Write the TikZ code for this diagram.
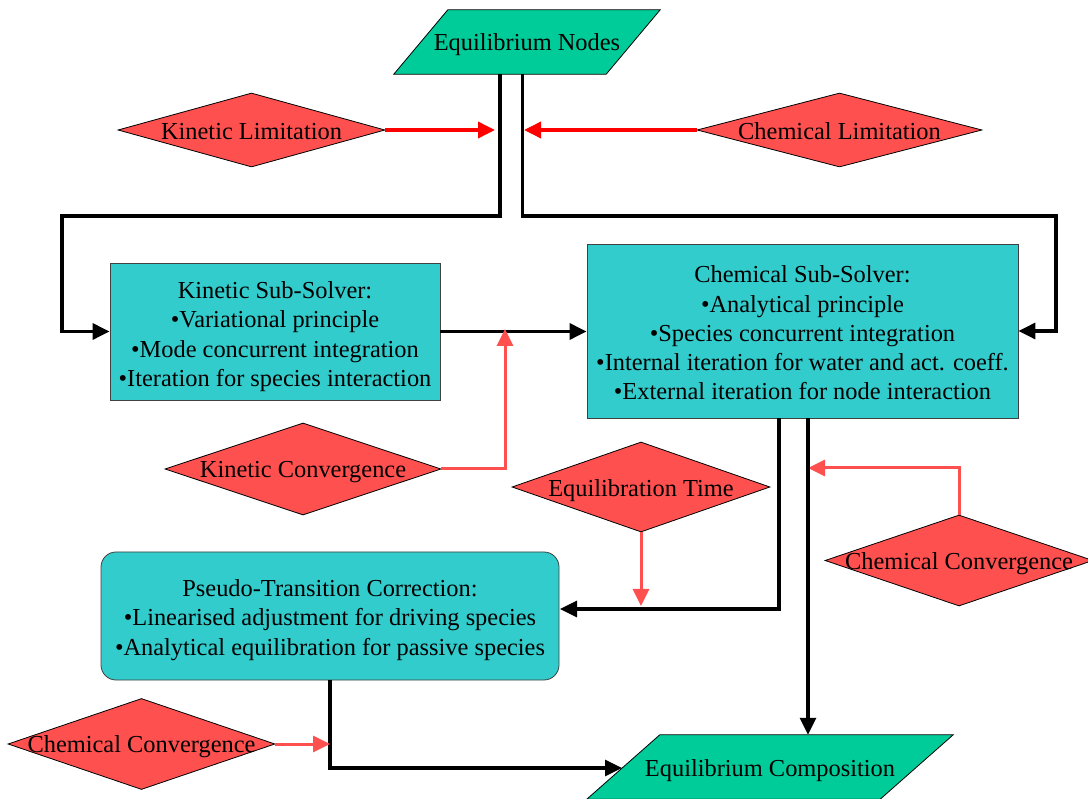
\documentclass[tikz,border=0pt]{standalone}
\usepackage{fontspec}
\setmainfont{Liberation Serif}
\usetikzlibrary{shapes.geometric,arrows.meta,backgrounds,calc}
\definecolor{paragreen}{HTML}{00CC99}
\definecolor{boxcyan}{HTML}{33CCCC}
\definecolor{diared}{HTML}{FF5050}
\begin{document}
\begin{tikzpicture}[x=1pt,y=-1pt,
  every node/.style={font=\fontsize{24.4}{29.3}\selectfont, inner sep=0pt},
  sbox/.style={rectangle, draw=black!75, line width=0.8pt, fill=boxcyan},
  dia/.style={diamond, draw=black, line width=0.8pt, fill=diared},
  ptext/.style={rectangle, minimum height=64pt},
  para/.style={fill=paragreen, draw=black, line width=0.8pt},
  blk/.style={draw=black, line width=3.2pt, -{Triangle[length=17pt,width=16pt]}},
  lim/.style={draw=red, line width=3.6pt, -{Triangle[length=17pt,width=16pt]}},
  conv/.style={draw=diared, line width=3pt, -{Triangle[length=17pt,width=16pt]}}
]
\useasboundingbox (0,0) rectangle (1088,799);

% parallelogram nodes
\node[ptext, minimum width=212pt, label={[yshift=-3pt]center:Equilibrium Nodes}] (eqn) at (527,42) {};
\node[ptext, minimum width=293pt, label={[yshift=-4pt]center:Equilibrium Composition}] (ec) at (770,767) {};
\begin{scope}[on background layer]
  \filldraw[para] ([xshift=27pt]eqn.north west) -- ([xshift=27pt]eqn.north east)
     -- ([xshift=-27pt]eqn.south east) -- ([xshift=-27pt]eqn.south west) -- cycle;
  \filldraw[para] ([xshift=36.5pt]ec.north west) -- ([xshift=36.5pt]ec.north east)
     -- ([xshift=-36.5pt]ec.south east) -- ([xshift=-36.5pt]ec.south west) -- cycle;
\end{scope}

% solver boxes
\node[sbox, minimum width=330pt, minimum height=137pt,
  label={[align=center, yshift=-5pt]center:Kinetic Sub-Solver:\\\textbullet Variational principle\\\textbullet Mode concurrent integration\\\textbullet Iteration for species interaction}] (ks) at (275,331.5) {};
\node[sbox, minimum width=431pt, minimum height=174pt,
  label={[align=center, yshift=-2pt]center:Chemical Sub-Solver:\\\textbullet Analytical principle\\\textbullet Species concurrent integration\\\textbullet Internal iteration for water and act. coeff.\\\textbullet External iteration for node interaction}] (cs) at (802.5,331) {};
\node[sbox, rounded corners=15pt, minimum width=458pt, minimum height=128pt,
  label={[align=center, yshift=-4pt]center:Pseudo-Transition Correction:\\\textbullet Linearised adjustment for driving species\\\textbullet Analytical equilibration for passive species}] (pt) at (330,616) {};

% diamonds
\node[dia, minimum width=267pt, minimum height=74pt, label={[yshift=-1.5pt]center:Kinetic Limitation}] (kl) at (251.5,130) {};
\node[dia, minimum width=285pt, minimum height=74pt, label={[yshift=-1pt]center:Chemical Limitation}] (cl) at (839.5,130) {};
\node[dia, minimum width=276pt, minimum height=92pt, label={[yshift=-3pt]center:Kinetic Convergence}] (kc) at (303,469) {};
\node[dia, minimum width=258pt, minimum height=90pt, label={[yshift=-3.5pt]center:Equilibration Time}] (et) at (641,487) {};
\node[dia, minimum width=268pt, minimum height=91pt, label={[yshift=-3.5pt]center:Chemical Convergence}] (cc2) at (959,560.5) {};
\node[dia, minimum width=267pt, minimum height=91pt, label={[yshift=-3pt]center:Chemical Convergence}] (cc1) at (141.5,744) {};

% coordinates
\coordinate (b1) at (62,216);
\coordinate (b2) at (1056,216);
\coordinate (kltip) at (495,130);
\coordinate (cltip) at (524,130);
\coordinate (kctip) at (505,329);
\coordinate (ettip) at (641,606);
\coordinate (ptin) at (560,609);
\coordinate (cc2tip) at (808,468);
\coordinate (ectip) at (622,768);
\coordinate (cc1tip) at (330,744);

% connectors
\draw[blk] ([xshift=-27pt]eqn.south) |- (b1) |- (ks.west);
\draw[blk] ([xshift=-4.5pt]eqn.south) |- (b2) |- (cs.east);
\draw[lim] (kl.east) -- (kltip);
\draw[lim] (cl.west) -- (cltip);
\draw[blk] (ks.east) -- (ks.east -| cs.west);
\draw[conv] (kc.east) -| (kctip);
\draw[blk] ([xshift=-23.5pt]cs.south) |- (ptin);
\draw[conv] (et.south) -- (ettip);
\draw[conv] (cc2.north) |- (cc2tip);
\draw[blk] ([xshift=5.5pt]cs.south) -- ([xshift=5.5pt]cs.south |- ec.north);
\draw[blk] (pt.south) |- (ectip);
\draw[conv] (cc1.east) -- (cc1tip);
\end{tikzpicture}
\end{document}
